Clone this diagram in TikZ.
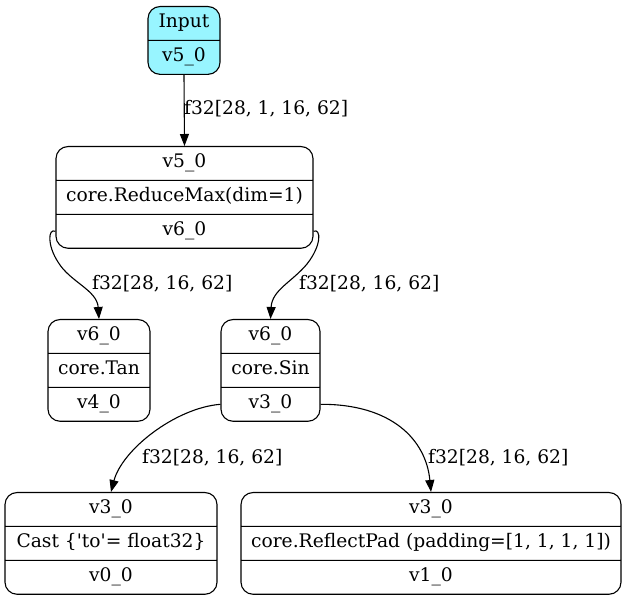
\documentclass[tikz,border=0pt]{standalone}
\usepackage{fontspec}
\setmainfont{DejaVu Serif}
\usetikzlibrary{shapes.multipart,arrows.meta}
\definecolor{inputcyan}{HTML}{98F5FF}
\tikzset{
  opbox/.style={rectangle split, rectangle split parts=3, draw, rounded corners=12pt,
    line width=1.1pt, inner xsep=4pt, inner ysep=5.2pt, anchor=north,
    font=\fontsize{18.67}{22.4}\selectfont},
  edge/.style={line width=1.1pt, -{Triangle[length=12pt,width=9pt]}},
  shapelbl/.style={anchor=base west, inner sep=0pt, font=\fontsize{18.67}{22.4}\selectfont}
}
\begin{document}
\begin{tikzpicture}[x=1pt,y=-1pt]
            \useasboundingbox (0,0) rectangle (627,601);
            \node[opbox, rectangle split parts=2, fill=inputcyan, minimum width=72pt] (input) at (184,6)
              {\strut Input \nodepart{two}\strut v5\_0};
            \node[opbox, minimum width=257pt] (rmax) at (184.5,146)
              {\strut v5\_0 \nodepart{two}\strut core.ReduceMax(dim=1) \nodepart{three}\strut v6\_0};
            \node[opbox, minimum width=102pt] (tan) at (99,319)
              {\strut v6\_0 \nodepart{two}\strut core.Tan \nodepart{three}\strut v4\_0};
            \node[opbox, minimum width=99pt] (sin) at (270.5,319)
              {\strut v6\_0 \nodepart{two}\strut core.Sin \nodepart{three}\strut v3\_0};
            \node[opbox, minimum width=212pt] (cast) at (111,492)
              {\strut v3\_0 \nodepart{two}\strut Cast \{\textquotesingle to\textquotesingle= float32\} \nodepart{three}\strut v0\_0};
            \node[opbox, minimum width=380pt] (rpad) at (431,492)
              {\strut v3\_0 \nodepart{two}\strut core.ReflectPad (padding=[1, 1, 1, 1]) \nodepart{three}\strut v1\_0};
            % edges
            \draw[edge] (input.south) -- (rmax.north);
            \node[shapelbl] (l1) at (184,115) {f32[28, 1, 16, 62]};
            \draw[edge] (rmax.three west) .. controls (48,228) and (47,245) .. (58,262)
              .. controls (70,282) and (97,290) .. (tan.north);
            \node[shapelbl] (l2) at (92,290) {f32[28, 16, 62]};
            \draw[edge] (rmax.three east) .. controls (321,228) and (322,245) .. (307,264)
              .. controls (292,282) and (272,290) .. (sin.north);
            \node[shapelbl] (l3) at (299,290) {f32[28, 16, 62]};
            \draw[edge] (sin.three west) .. controls (175,408) and (122,450) .. (cast.north);
            \node[shapelbl] (l4) at (142,464) {f32[28, 16, 62]};
            \draw[edge] (sin.three east) .. controls (392,404) and (426,440) .. (rpad.north);
            \node[shapelbl] (l5) at (428,464) {f32[28, 16, 62]};
        \end{tikzpicture}
\end{document}
